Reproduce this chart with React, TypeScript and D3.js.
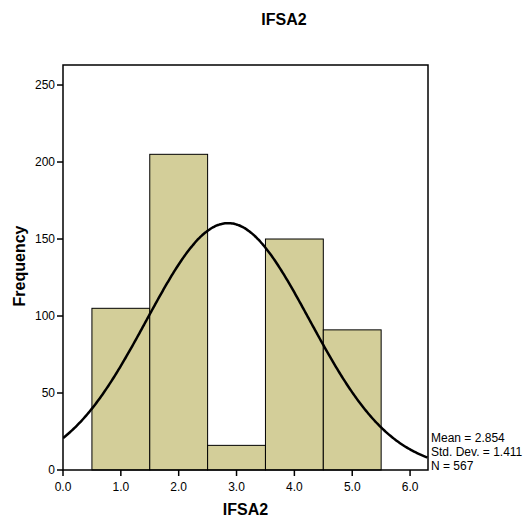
import { useMemo } from "react";
import * as d3 from "d3";

const W = 525;
const H = 519;
const MARGIN = { top: 65, right: 97, bottom: 49, left: 63 };

const binStarts = [0.5, 1.5, 2.5, 3.5, 4.5];
const binEnds = [1.5, 2.5, 3.5, 4.5, 5.5];
const counts = [105, 205, 16, 150, 91];
const xTicks = [0, 1, 2, 3, 4, 5, 6];
const yTicks = [0, 50, 100, 150, 200, 250];
const MEAN = 2.854;
const SD = 1.411;
const N = 567;
const BIN_WIDTH = 1;
const BAR_COLOR = "#d3ce99";
const FONT = "'Liberation Sans', Arial, sans-serif";

export default function App() {
  const boundsWidth = W - MARGIN.left - MARGIN.right;
  const boundsHeight = H - MARGIN.top - MARGIN.bottom;

  const xScale = useMemo(
    () => d3.scaleLinear().domain([0, 6.31]).range([0, boundsWidth]),
    [boundsWidth]
  );
  const yScale = useMemo(
    () => d3.scaleLinear().domain([0, 263]).range([boundsHeight, 0]),
    [boundsHeight]
  );

  // fitted normal curve from the reported mean / std dev / N
  const curve = useMemo(() => {
    const pts = d3.range(0, 6.32, 0.02).map((x) => {
      const z = (x - MEAN) / SD;
      const y = (N * BIN_WIDTH) / (SD * Math.sqrt(2 * Math.PI)) * Math.exp(-0.5 * z * z);
      return [x, y] as [number, number];
    });
    return d3
      .line<[number, number]>()
      .x((d) => xScale(d[0]))
      .y((d) => yScale(d[1]))
      .curve(d3.curveBasis)(pts);
  }, [xScale, yScale]);

  return (
    <svg width={W} height={H} style={{ position: "absolute", left: 0, top: 0 }} fontFamily={FONT}>
      <rect width={W} height={H} fill="#fff" />
      <text x={284} y={25} textAnchor="middle" fontSize={16} fontWeight="bold">
        IFSA2
      </text>
      <defs>
        <clipPath id="plot">
          <rect x={0} y={0} width={boundsWidth} height={boundsHeight} />
        </clipPath>
      </defs>
      <g transform={`translate(${MARGIN.left},${MARGIN.top})`}>
        {counts.map((c, i) => (
          <rect
            key={i}
            x={xScale(binStarts[i])}
            width={xScale(binEnds[i]) - xScale(binStarts[i])}
            y={yScale(c)}
            height={boundsHeight - yScale(c)}
            fill={BAR_COLOR}
            stroke="#000"
            strokeWidth={1}
          />
        ))}
        <path d={curve ?? ""} fill="none" stroke="#000" strokeWidth={2.5} clipPath="url(#plot)" />
        <rect x={0} y={0} width={boundsWidth} height={boundsHeight} fill="none" stroke="#000" strokeWidth={1.5} />
        {yTicks.map((t) => (
          <g key={t} transform={`translate(0,${yScale(t)})`}>
            <line x1={-6} x2={0} stroke="#000" strokeWidth={1.5} />
            <text x={-8} dy="0.35em" textAnchor="end" fontSize={12}>
              {t}
            </text>
          </g>
        ))}
        {xTicks.map((t) => (
          <g key={t} transform={`translate(${xScale(t)},${boundsHeight})`}>
            <line y1={0} y2={6} stroke="#000" strokeWidth={1.5} />
            <text y={21} textAnchor="middle" fontSize={12}>
              {t.toFixed(1)}
            </text>
          </g>
        ))}
        <text
          x={boundsWidth / 2}
          y={boundsHeight + 45}
          textAnchor="middle"
          fontSize={16}
          fontWeight="bold"
        >
          IFSA2
        </text>
        <text
          transform={`translate(${-38},${boundsHeight / 2 - 1.5}) rotate(-90)`}
          textAnchor="middle"
          fontSize={16}
          fontWeight="bold"
        >
          Frequency
        </text>
        <g fontSize={12} transform={`translate(${boundsWidth + 3},0)`}>
          <text y={boundsHeight - 28}>Mean = {MEAN.toFixed(3)}</text>
          <text y={boundsHeight - 14}>Std. Dev. = {SD.toFixed(3)}</text>
          <text y={boundsHeight}>N = {N}</text>
        </g>
      </g>
    </svg>
  );
}
